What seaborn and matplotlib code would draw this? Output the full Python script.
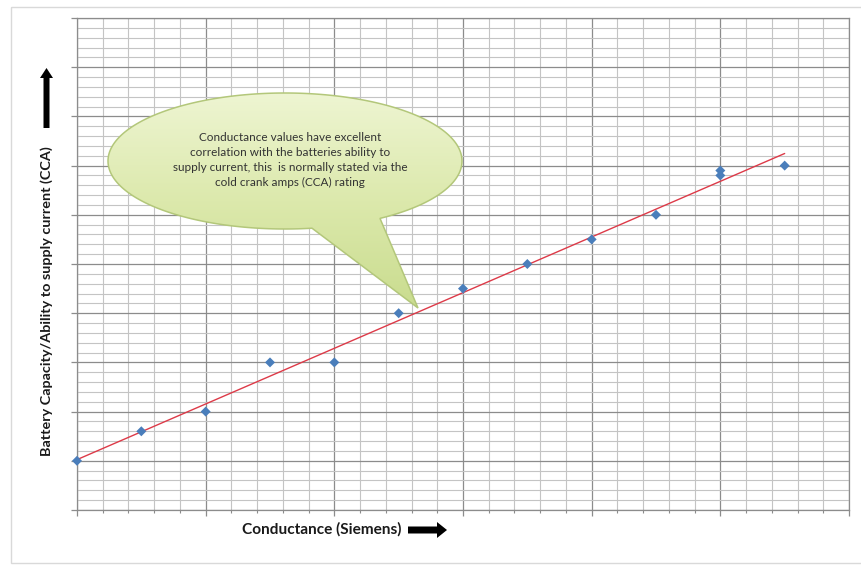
import numpy as np
import matplotlib
matplotlib.use("Agg")
import matplotlib.pyplot as plt
import seaborn as sns
from matplotlib.ticker import MultipleLocator
from matplotlib.path import Path
from matplotlib.patches import PathPatch, FancyArrow, Rectangle
from matplotlib.colors import LinearSegmentedColormap

# values (arbitrary units, axes carry no tick labels)
conductance = [0, 50, 100, 150, 200, 250, 300, 350, 400, 450, 500, 500, 550]
cca = [100, 160, 200, 300, 300, 400, 450, 500, 550, 600, 680, 690, 700]

x_label = 'Conductance (Siemens)'
y_label = 'Battery Capacity/Ability to supply current (CCA)'
note = ('Conductance values have excellent\n'
        'correlation with the batteries ability to\n'
        'supply current, this  is normally stated via the\n'
        'cold crank amps (CCA) rating')

sns.set_style('white')
plt.rcParams['font.family'] = ['Lato', 'DejaVu Sans']

W, H = 862, 565
fig = plt.figure(figsize=(W / 100, H / 100), dpi=100)
ax = fig.add_axes([77 / W, 55 / H, 772 / W, 492 / H])

# trend line (least squares fit) and the points
sns.regplot(x=conductance, y=cca, ax=ax, ci=None, scatter=False,
            line_kws=dict(color='#dd3a48', lw=1.0, zorder=3))
sns.scatterplot(x=conductance, y=cca, ax=ax, marker='D', s=26,
                color='#4a7ebb', edgecolor='none', zorder=4, clip_on=False)

ax.set_xlim(0, 600)
ax.set_ylim(0, 1000)
ax.xaxis.set_major_locator(MultipleLocator(100))
ax.xaxis.set_minor_locator(MultipleLocator(20))
ax.yaxis.set_major_locator(MultipleLocator(100))
ax.yaxis.set_minor_locator(MultipleLocator(20))
ax.grid(which='major', color='#8c8c8c', lw=0.9)
ax.grid(which='minor', color='#c4c4c4', lw=0.8)
ax.set_axisbelow(True)
ax.tick_params(which='both', labelbottom=False, labelleft=False,
               bottom=True, left=True, direction='out', color='#8c8c8c')
ax.tick_params(which='major', length=4, width=0.9)
ax.tick_params(axis='x', which='minor', length=2, width=0.8)
ax.tick_params(axis='y', which='minor', length=0)
for s in ax.spines.values():
    s.set_color('#8c8c8c')
    s.set_linewidth(0.9)

ax.set_xlabel(x_label, fontweight='bold', fontsize=11.1, va='center', color='#1a1a1a')
ax.xaxis.set_label_coords(0.317, -0.039)
ax.set_ylabel(y_label, fontweight='bold', fontsize=10.4, va='center', color='#1a1a1a')
ax.yaxis.set_label_coords(-0.039, 0.425)

# overlay in figure pixels for the frame, arrows and the speech bubble
ov = fig.add_axes([0, 0, 1, 1], zorder=5)
ov.set_xlim(0, W)
ov.set_ylim(H, 0)
ov.axis('off')
ov.patch.set_alpha(0)

ov.add_patch(Rectangle((11, 7), 880, 556, fill=False, ec='#d9d9d9', lw=1))
ov.add_patch(FancyArrow(408, 530, 39, 0, width=7, head_width=16, head_length=10,
                        length_includes_head=True, color='black', lw=0))
ov.add_patch(FancyArrow(46.5, 128, 0, -60, width=6, head_width=13, head_length=10,
                        length_includes_head=True, color='black', lw=0))

cx, cy, a, b = 285, 161, 177, 68
t1 = np.arccos((380 - cx) / a)
t2 = np.arccos((312 - cx) / a)
ta = np.linspace(0, t1, 60)
tb = np.linspace(t2, 2 * np.pi, 240)
pts = [(cx + a * np.cos(t), cy + b * np.sin(t)) for t in ta]
pts.append((418, 308))
pts += [(cx + a * np.cos(t), cy + b * np.sin(t)) for t in tb]
pts.append(pts[0])
bubble = Path(pts, closed=True)

grad = LinearSegmentedColormap.from_list('bub', ['#eef5d2', '#dce9ac', '#c9dc8e'])
img = ov.imshow(np.linspace(0, 1, 256).reshape(-1, 1), cmap=grad, aspect='auto',
                extent=(cx - a, cx + a, 310, cy - b), origin='upper', zorder=1)
edge = PathPatch(bubble, fc='none', ec='#b3c77a', lw=1.1, zorder=2)
ov.add_patch(edge)
img.set_clip_path(edge)
ov.set_xlim(0, W)
ov.set_ylim(H, 0)

ov.text(290, 160, note, ha='center', va='center', fontsize=8.5,
        linespacing=1.42, color='#333333', zorder=3)

fig.savefig('out.png', dpi=100)
